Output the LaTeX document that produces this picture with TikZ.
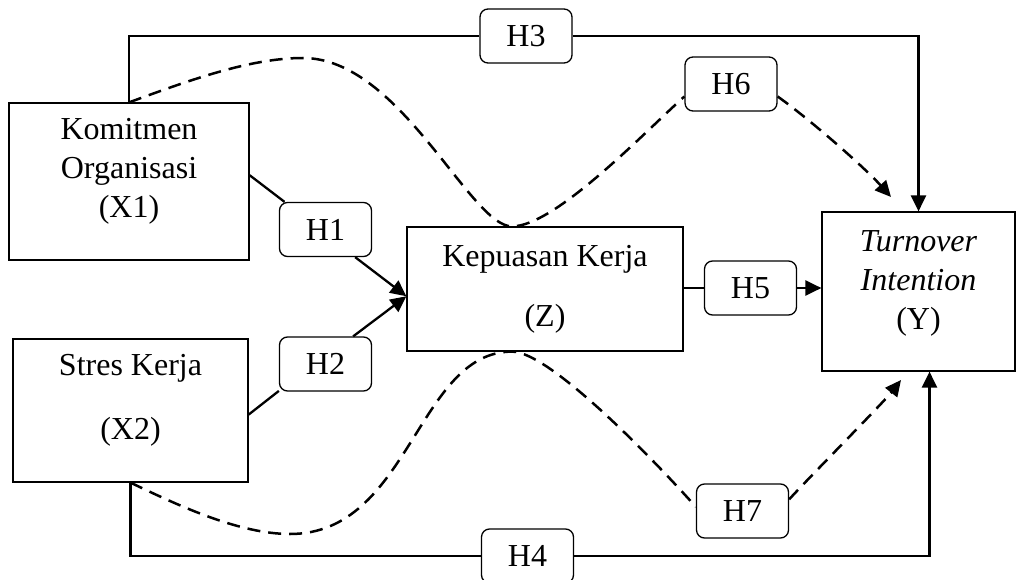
\documentclass[tikz,border=0pt]{standalone}
\usepackage{fontspec}
\setmainfont{Liberation Serif}
\usetikzlibrary{arrows.meta,calc}

\begin{document}
\begin{tikzpicture}[
    x=1pt, y=-1pt,
    every node/.style={color=black, font=\fontsize{32}{39}\selectfont},
    var box/.style={draw, line width=1.2pt, inner sep=0pt},
    hyp box/.style={draw, rounded corners=8pt, fill=white, line width=1.3pt,
    minimum width=92pt, minimum height=54pt, inner sep=0pt},
    box text/.style={align=center},
    path line/.style={line width=2.3pt},
    indirect line/.style={line width=2.5pt, dash pattern=on 13pt off 8pt},
    >={Triangle[length=16pt,width=15pt]}
    ]
\useasboundingbox (0,0) rectangle (1016,580);
% variables
\node[var box, minimum width=240pt, minimum height=157pt] (x1) at (129,181.5) {};
\node[var box, minimum width=235pt, minimum height=143pt] (x2) at (130.5,410.5) {};
\node[var box, minimum width=276pt, minimum height=124pt] (z) at (545,289) {};
\node[var box, minimum width=193pt, minimum height=159pt] (yv) at (918.5,291.5) {};
\node[box text] (x1t) at ([yshift=10pt]x1.center) {Komitmen\\Organisasi\\(X1)};
\node[box text] (x2t) at ([yshift=10pt]x2.center) {Stres Kerja\\[25pt](X2)};
\node[box text] (zt) at (z.center) {Kepuasan Kerja\\[21pt](Z)};
\node[box text] (yt) at ([yshift=8pt]yv.center) {\textit{Turnover}\\\textit{Intention}\\(Y)};
% hypotheses
\node[hyp box] (h1) at (325.5,229.5) {H1};
\node[hyp box] (h2) at (325.5,364) {H2};
\node[hyp box] (h3) at (526,36) {H3};
\node[hyp box] (h4) at (527.5,556) {H4};
\node[hyp box] (h5) at (750.5,288) {H5};
\node[hyp box] (h6) at (731,84) {H6};
\node[hyp box] (h7) at (742.5,511) {H7};
\coordinate (peak1) at (303,58);
\coordinate (dip2) at (290,534);
\coordinate (ztop) at ([xshift=-33pt]z.north);
\coordinate (zbot) at ([xshift=-33pt]z.south);
\coordinate (tip6) at (891,197);
\coordinate (tip7) at (901,380);
% direct paths
\draw[path line] (x1.3) -- (h1.146);
\draw[path line, ->] (h1.-43) -- (z.183);
\draw[path line] (x2.-2) -- (h2.210);
\draw[path line, ->] (h2.45) -- (z.183);
\draw[path line] (z.east |- h5.west) -- (h5.west);
\draw[path line, ->] (h5.east) -- (h5.east -| yv.west);
\draw[path line] (x1.north) |- (h3.west);
\draw[path line, ->] (h3.east) -| (yv.north);
\draw[path line] (x2.south) |- (h4.west);
\draw[path line, ->] (h4.east) -| ([xshift=11pt]yv.south);
% mediated paths
\draw[indirect line] (x1.north) .. controls +(60,-22) and +(-53,0) .. (peak1)
    .. controls +(97,0) and +(-42,0) .. (ztop)
    .. controls +(43,0) and +(-40,36) .. (h6.195);
\draw[indirect line, ->] (h6.345) .. controls +(35,25) and +(-25,-28) .. (tip6);
\draw[indirect line] (x2.south) .. controls +(50,24) and +(-50,0) .. (dip2)
    .. controls +(120,0) and +(-95,0) .. (zbot)
    .. controls +(38,0) and +(-40,-45) .. (h7.175);
\draw[indirect line, ->] (h7.14) .. controls +(20,-22) and +(-18,23) .. (tip7);
\end{tikzpicture}
\end{document}
